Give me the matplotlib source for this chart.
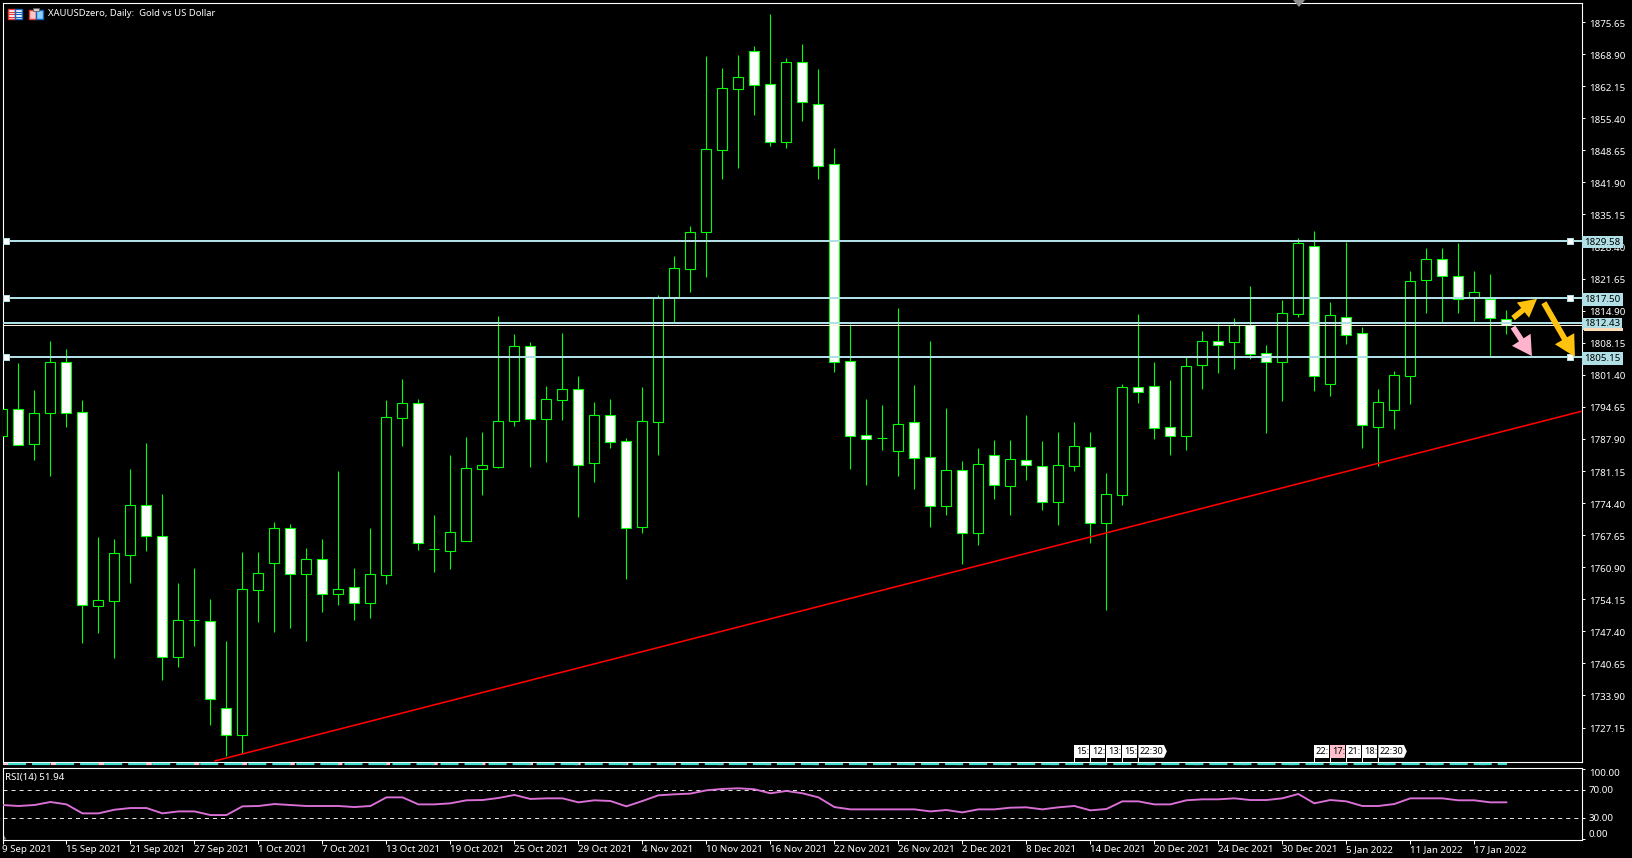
import matplotlib
matplotlib.use("Agg")
import matplotlib.pyplot as plt
from matplotlib.patches import Rectangle, Polygon, FancyArrowPatch
from matplotlib.lines import Line2D
from matplotlib.transforms import blended_transform_factory, ScaledTranslation

highs = [1796.06,1803.78,1798.16,1808.48,1806.80,1796.06,1767.22,1766.73,1781.53,1787.01,
         1776.27,1757.53,1760.69,1754.16,1745.32,1764.06,1764.06,1770.37,1769.95,1764.90,
         1766.79,1781.11,1760.69,1769.11,1796.06,1800.48,1796.27,1771.85,1784.48,1788.27,
         1789.32,1813.74,1809.89,1808.27,1799.01,1810.16,1801.11,1795.64,1796.27,1788.06,
         1798.80,1818.16,1826.37,1832.69,1868.48,1865.95,1868.69,1870.59,1877.32,1868.06,
         1871.01,1865.74,1849.11,1812.06,1796.27,1795.01,1815.43,1799.22,1808.48,1794.37,
         1783.22,1785.95,1787.64,1787.64,1792.90,1787.43,1789.32,1791.43,1789.32,1780.69,
         1799.43,1814.16,1804.06,1800.27,1805.11,1810.58,1812.06,1813.32,1820.06,1807.64,
         1817.11,1830.16,1831.64,1816.69,1829.32,1811.43,1798.37,1802.16,1823.22,1828.06,
         1828.06,1829.11,1823.22,1822.58,1815.01]
body_top = [1794.10,1794.10,1793.26,1804.00,1804.00,1793.47,1753.89,1763.78,1773.89,1773.89,
            1767.36,1749.68,1749.74,1749.47,1731.36,1756.20,1759.57,1769.05,1769.05,1762.52,
            1762.52,1756.20,1756.63,1759.36,1792.42,1795.36,1795.36,1764.63,1768.20,1781.68,
            1782.31,1791.57,1807.36,1807.36,1796.20,1798.31,1798.31,1792.84,1792.84,1787.36,
            1791.57,1817.53,1823.78,1831.36,1848.84,1861.68,1864.00,1869.47,1862.52,1867.15,
            1867.15,1858.31,1845.68,1804.21,1788.63,1788.00,1790.94,1791.36,1783.99,1781.26,
            1781.26,1782.52,1784.42,1783.57,1783.36,1782.10,1782.31,1786.31,1786.10,1776.20,
            1798.73,1798.73,1798.94,1790.31,1803.15,1808.42,1808.42,1811.78,1811.78,1805.89,
            1814.31,1829.05,1828.42,1813.89,1813.47,1810.10,1795.57,1801.26,1821.05,1825.68,
            1825.68,1822.10,1818.73,1817.32,1813.17]
body_bot = [1788.54,1786.65,1786.86,1793.26,1793.38,1752.96,1752.75,1753.80,1763.49,1767.49,
            1742.02,1742.02,1749.74,1733.17,1725.59,1725.59,1756.12,1761.80,1759.49,1759.49,
            1755.28,1755.28,1753.39,1753.39,1759.28,1792.33,1766.02,1764.63,1764.33,1766.44,
            1781.59,1782.02,1791.70,1792.12,1792.12,1796.12,1782.44,1782.86,1787.28,1769.17,
            1769.38,1791.49,1817.81,1823.57,1831.36,1848.75,1861.60,1862.44,1850.44,1850.44,
            1858.73,1845.26,1804.12,1788.54,1787.91,1788.00,1785.39,1783.91,1773.81,1773.81,
            1768.12,1768.12,1778.23,1778.02,1782.44,1774.65,1774.65,1782.23,1770.23,1770.23,
            1776.12,1797.81,1790.23,1788.54,1788.54,1803.49,1807.70,1808.33,1805.81,1804.12,
            1804.12,1814.23,1801.05,1799.49,1809.81,1790.73,1790.44,1794.02,1801.17,1821.26,
            1822.10,1817.38,1817.60,1813.26,1811.78]
lows = [1786.59,1786.65,1783.43,1780.06,1790.37,1744.90,1747.00,1741.74,1757.53,1764.27,
        1737.11,1739.85,1744.27,1727.64,1721.11,1721.74,1749.32,1747.21,1748.06,1745.32,
        1751.43,1752.90,1749.74,1750.16,1757.32,1786.37,1764.48,1759.85,1760.48,1766.44,
        1776.06,1781.74,1790.58,1781.95,1783.01,1791.85,1771.43,1778.79,1785.95,1758.37,
        1768.06,1784.48,1812.48,1818.80,1822.02,1842.59,1844.90,1856.06,1849.53,1849.11,
        1854.80,1842.59,1802.02,1781.53,1778.16,1785.53,1780.06,1777.32,1769.32,1771.85,
        1761.53,1765.53,1775.22,1771.85,1779.22,1772.90,1769.74,1781.11,1765.95,1751.85,
        1773.95,1795.43,1787.85,1784.48,1785.53,1798.37,1801.74,1802.65,1804.69,1789.11,
        1795.85,1813.53,1797.95,1796.90,1807.85,1785.95,1782.16,1789.95,1795.22,1814.37,
        1812.48,1814.37,1812.69,1805.32,1809.95]
rising = [1,0,1,1,0,0,1,1,1,0,
          0,1,1,0,0,1,1,1,0,1,
          0,1,0,1,1,1,0,1,1,1,
          1,1,1,0,1,1,0,1,0,0,
          1,1,1,1,1,1,1,0,0,1,
          0,0,0,0,0,1,1,0,0,1,
          0,1,0,1,0,0,1,1,0,1,
          1,0,0,0,1,1,0,1,0,0,
          1,1,0,1,0,0,1,1,1,1,
          0,0,1,0,0]
rsi = [48.1,46.7,48.1,52.4,49.0,36.2,36.2,41.4,43.8,43.8,
       36.2,39.0,39.0,33.8,33.8,46.2,46.7,49.5,48.1,46.7,
       46.7,46.7,45.2,46.7,59.0,59.0,49.0,49.0,50.5,54.8,
       55.2,58.1,62.4,56.7,57.6,57.6,51.9,54.8,53.8,46.2,
       53.8,61.9,63.3,64.3,69.0,71.0,71.9,70.5,64.8,68.1,
       64.8,59.0,45.2,41.9,41.9,41.9,41.9,41.9,39.0,41.0,
       37.6,41.9,41.9,44.3,44.8,41.9,44.8,46.7,40.5,42.4,
       53.3,53.3,49.0,49.0,54.8,56.2,56.2,57.6,55.2,55.2,
       57.6,63.8,50.5,55.2,53.3,46.7,46.7,49.5,57.6,57.6,
       57.6,54.8,54.8,51.9,51.94]
date_labels = ["9 Sep 2021","15 Sep 2021","21 Sep 2021","27 Sep 2021","1 Oct 2021","7 Oct 2021",
               "13 Oct 2021","19 Oct 2021","25 Oct 2021","29 Oct 2021","4 Nov 2021","10 Nov 2021",
               "16 Nov 2021","22 Nov 2021","26 Nov 2021","2 Dec 2021","8 Dec 2021","14 Dec 2021",
               "20 Dec 2021","24 Dec 2021","30 Dec 2021","5 Jan 2022","11 Jan 2022","17 Jan 2022"]
price_ticks = [1875.65,1868.90,1862.15,1855.40,1848.65,1841.90,1835.15,1828.40,1821.65,1814.90,
               1808.15,1801.40,1794.65,1787.90,1781.15,1774.40,1767.65,1760.90,1754.15,1747.40,
               1740.65,1733.90,1727.15]
levels = [1829.58,1817.50,1812.33,1805.15]
level_labels = ["1829.58","1817.50","1812.43","1805.15"]
anchored_levels = [1829.58,1817.50,1805.15]
bid = 1811.80
trend_x = [13.29,98.67]
trend_y = [1720.12,1793.68]
event_groups = [(67,["15:","12:","13:","15:","22:30"],[]),
                (82,["22:","17:","21:","18:","22:30"],[1])]

W, H = 1632, 858
GREEN = "#00FF00"
BLUE = "#B0E0E6"
FONT = ["Noto Sans","DejaVu Sans"]
px = 0.72
plt.rcParams["lines.scale_dashes"] = False
plt.rcParams["font.family"] = FONT
fig = plt.figure(figsize=(W/100, H/100), dpi=100, facecolor="black")

def box(l, t, r, b):
    return [l/W, 1-b/H, (r-l)/W, (b-t)/H]

ax = fig.add_axes(box(2.5, 2.5, 1581.5, 761.5), facecolor="black")
rx = fig.add_axes(box(2.5, 767.5, 1581.5, 839.5), facecolor="black", sharex=ax)
ov = fig.add_axes([0, 0, 1, 1], facecolor="none")
ov.set_xlim(0, W); ov.set_ylim(H, 0); ov.axis("off")

ax.set_xlim(0.0, 98.7)
ax.set_ylim(1720.0, 1879.74)
rx.set_ylim(-1.0, 101.5)

for a in (ax, rx):
    for s in a.spines.values():
        s.set_color("white"); s.set_linewidth(1.1*px)
    a.yaxis.tick_right()

xs = list(range(len(highs)))
opens = [b if r else t for t, b, r in zip(body_top, body_bot, rising)]
closes = [t if r else b for t, b, r in zip(body_top, body_bot, rising)]
ax.vlines(xs, lows, highs, color=GREEN, lw=1.1*px, zorder=2)
ax.bar(xs, [c-o for c, o in zip(closes, opens)], bottom=opens, width=10/16,
       color=["black" if r else "white" for r in rising],
       edgecolor=GREEN, linewidth=1.1*px, zorder=3)

ax.plot(trend_x, trend_y, color="#FF0000", lw=1.6*px, zorder=4, clip_on=True)
ax.axhline(bid, color="#FFF0DC", lw=1*px, zorder=4.5)
for lv in levels:
    ax.axhline(lv, color=BLUE, lw=2*px, zorder=5)

ax.set_yticks(price_ticks)
ax.set_yticklabels([f"{t:.2f}" for t in price_ticks])
ax.tick_params(axis="y", colors="white", length=3*px, width=1*px, pad=3.2, labelsize=7.0)
ax.tick_params(axis="x", length=0, labelbottom=False)
shift = ScaledTranslation(0, -0.8/72, fig.dpi_scale_trans)
for lab in ax.get_yticklabels():
    lab.set_transform(lab.get_transform()+shift)

trans = ax.get_yaxis_transform()
for lv in anchored_levels:
    ax.plot([0.0023, 0.9930], [lv, lv], ls="none", marker="s", ms=5.0, mfc="white", mec=BLUE,
            mew=1*px, transform=trans, zorder=6, clip_on=False)

for lv, t in zip(levels, level_labels):
    ax.text(1.0018, lv-0.25, t, transform=trans, color="black", fontsize=7.0, va="center", ha="left",
            zorder=8, clip_on=False,
            bbox=dict(boxstyle="square,pad=0.2", facecolor=BLUE, edgecolor="none"))

for start, end, col, hw, hl, tw in [((94.42,1813.32),(95.92,1817.38),"#FFC20E",14,13,4.0),
                                    ((96.35,1816.54),(98.29,1805.17),"#FFC20E",16,15,4.2),
                                    ((94.42,1811.43),(95.60,1805.32),"#FFB3CC",16,14,4.0)]:
    ax.add_patch(FancyArrowPatch(start, end, mutation_scale=1, shrinkA=0, shrinkB=0, lw=0, color=col,
                 arrowstyle=f"simple,head_length={hl},head_width={hw},tail_width={tw}", zorder=7))

# event tags along the bottom of the price pane
btrans = blended_transform_factory(ax.transData, ax.transAxes)
tag_b = (761.5-757.7)/759
tag_t = (761.5-745)/759
for start, labs, pink in event_groups:
    for k, lab in enumerate(labs):
        x0 = start+k
        face = "#FFC0CB" if k in pink else "white"
        ax.plot([x0, x0], [0, tag_b], color="white", lw=1*px, transform=btrans, zorder=8)
        if lab == "22:30":
            pts = [(x0,tag_t),(x0+1.6,tag_t),(x0+1.78,(tag_t+tag_b)/2),(x0+1.6,tag_b),(x0,tag_b)]
        else:
            pts = [(x0,tag_t),(x0+0.94,tag_t),(x0+0.94,tag_b),(x0,tag_b)]
        ax.add_patch(Polygon(pts, closed=True, facecolor=face, edgecolor="none", transform=btrans, zorder=8))
        ax.text(x0+0.1, (tag_t+tag_b)/2, lab, transform=btrans, color="black", fontsize=6.6,
                va="center", ha="left", zorder=9)

# RSI pane
rx.axhline(70, color="#E0E0E0", lw=1*px, ls=(0, (2.9, 2.9)), zorder=1)
rx.axhline(30, color="#E0E0E0", lw=1*px, ls=(0, (2.9, 2.9)), zorder=1)
rx.plot(xs, rsi, color="#DA70D6", lw=1.9*px, zorder=3)
rx.set_yticks([100, 70, 30, 0])
rx.set_yticklabels(["100.00", "70.00", "30.00", "0.00"])
rx.tick_params(axis="y", colors="white", length=3*px, width=1*px, pad=3.2, labelsize=7.0)
ylabs = rx.get_yticklabels()
ylabs[0].set_va("top")
ylabs[3].set_va("bottom")
rx.set_xticks(xs[::4])
rx.set_xticklabels(date_labels, ha="left")
rx.tick_params(axis="x", colors="white", length=3.5*px, width=1*px, pad=1.4, labelsize=7.0)
rx.text(0.0016, 0.86, "RSI(14) 51.94", transform=rx.transAxes, color="white", fontsize=7.0, va="center", ha="left")
rx.add_patch(Polygon([(0, 0), (0.0025, 0), (0, 0.09)], closed=True, transform=rx.transAxes,
                     facecolor="#808080", edgecolor="none"))

# separator strip between the panes
ov.add_line(Line2D([2.5, 1507], [764.4, 764.4], color="#FFC8D0", lw=2.2*px, ls=(0, (4.3, 30))))
ov.add_line(Line2D([8, 1507], [764.4, 764.4], color="#40E0D0", lw=2.2*px, ls=(0, (13, 4.3))))

# title and toolbar glyphs
ov.text(48.5, 13, "XAUUSDzero, Daily:  Gold vs US Dollar", color="white", fontsize=6.8, va="center", ha="left")
ov.add_patch(Rectangle((7.5, 8.5), 7, 10, facecolor="#FFFFFF", edgecolor="#E53935", lw=1.4*px))
ov.add_patch(Rectangle((14.5, 8.5), 7, 10, facecolor="#FFFFFF", edgecolor="#1565C0", lw=1.4*px))
for yy in (11.5, 14, 16.5):
    ov.add_line(Line2D([8, 14], [yy, yy], color="#E53935", lw=1.2*px))
    ov.add_line(Line2D([15, 21], [yy, yy], color="#1565C0", lw=1.2*px))
ov.add_patch(Rectangle((28.5, 10), 7, 8.5, facecolor="#FFC8C8", edgecolor="#E53935", lw=1.4*px))
ov.add_patch(Rectangle((36, 10), 7, 8.5, facecolor="#90D0FF", edgecolor="#1565C0", lw=1.4*px))
ov.add_patch(Rectangle((32.5, 8), 6, 3, facecolor="#D0D0D0", edgecolor="#606060", lw=0.8*px))
ov.add_patch(Polygon([(1293, 0), (1305, 0), (1299, 7)], closed=True, facecolor="#909090", edgecolor="none"))
# bid price tag showing beneath the level tag
ov.add_patch(Rectangle((1584, 328.4), 39, 2.4, facecolor="#FFDAB9", edgecolor="none"))

fig.savefig("out.png", dpi=100, facecolor="black")
